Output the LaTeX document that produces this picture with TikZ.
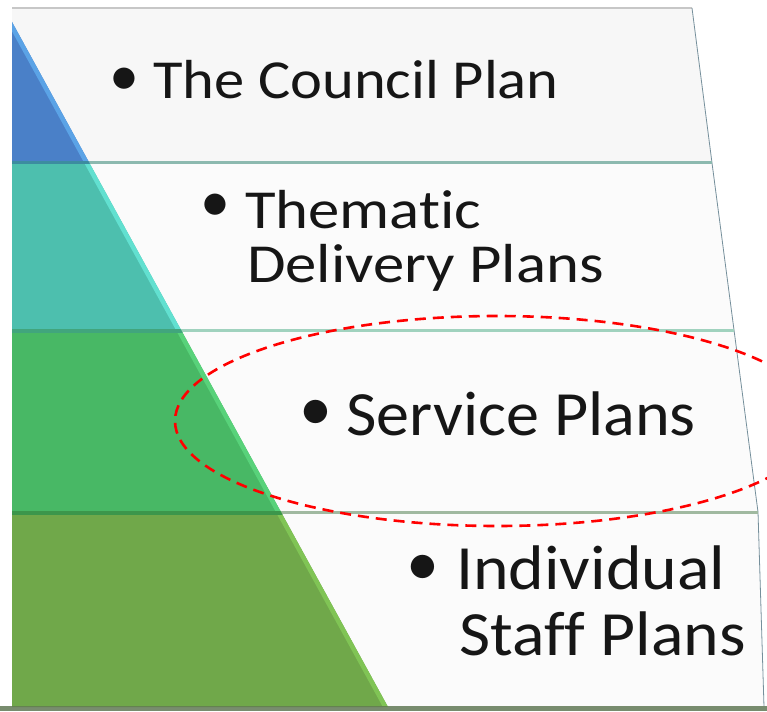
\documentclass[tikz,border=0pt]{standalone}
\usepackage{fontspec}
\setmainfont{Carlito}
\newfontfamily\upperfont[FakeStretch=1.1, Ligatures=NoCommon]{Carlito}
\newfontfamily\middlefont[FakeStretch=1.14, Ligatures=NoCommon]{Carlito}
\newfontfamily\lowerfont[FakeStretch=1.05, Ligatures=NoCommon]{Carlito}
\newfontfamily\basefont[FakeStretch=1.075, Ligatures=NoCommon]{Carlito}
\definecolor{tierA}{HTML}{4A80C8}
\definecolor{tierAhi}{HTML}{5BA3E6}
\definecolor{tierB}{HTML}{4DBFAE}
\definecolor{tierBhi}{HTML}{62E0D0}
\definecolor{tierC}{HTML}{48B865}
\definecolor{tierChi}{HTML}{58D27A}
\definecolor{tierD}{HTML}{70A84A}
\definecolor{tierDhi}{HTML}{80C455}
\definecolor{inkcol}{HTML}{161616}
\begin{document}
\begin{tikzpicture}[x=1pt,y=-1pt,
  item/.style={anchor=base west, inner sep=0pt, text=inkcol},
  upper/.style={item, font=\upperfont\fontsize{55}{60}\selectfont},
  middle/.style={item, font=\middlefont\fontsize{55}{60}\selectfont},
  lower/.style={item, font=\lowerfont\fontsize{63}{68}\selectfont},
  bottom/.style={item, font=\basefont\fontsize{63}{68}\selectfont},
  dot/.style={inner sep=0pt, anchor=center, text=inkcol},
  sepline/.style={line width=3pt},
]
\useasboundingbox (0,0) rectangle (767,711);
\fill[white] (0,0) rectangle (767,711);
\clip (0,0) rectangle (767,711);

% text panels
\fill[white!97!black] (12,8) -- (692,8) -- (712,163) -- (12,163) -- cycle;
\fill[white!98.5!black] (12,163) -- (712,163) -- (734,330) -- (758,512) -- (764,707) -- (12,707) -- cycle;
\draw[line width=1.2pt, black!22] (12,8) -- (692,8);
\draw[line width=0.8pt, black!35!cyan!40!gray] (692,8) -- (712,163) -- (734,330) -- (758,512) -- (764,707);
\draw[sepline, color={rgb,255:red,140;green,185;blue,175}] (80,163) -- (712,163);
\draw[sepline, color={rgb,255:red,160;green,210;blue,190}] (170,330) -- (734,330);
\draw[sepline, color={rgb,255:red,160;green,185;blue,160}] (270,512) -- (758,512);
\fill[color={rgb,255:red,120;green,140;blue,110}] (0,706) rectangle (767,711);

% stepped pyramid, left half
\begin{scope}
  \clip (12,22) -- (388,707) -- (12,707) -- cycle;
  \fill[tierA] (12,0) rectangle (400,163);
  \fill[tierB] (12,163) rectangle (400,330);
  \fill[tierC] (12,330) rectangle (400,512);
  \fill[tierD] (12,512) rectangle (400,707);
  \begin{scope}
    \clip (0,0) rectangle (400,163);
    \draw[line width=9pt, tierAhi] (12,22) -- (388,707);
  \end{scope}
  \begin{scope}
    \clip (0,163) rectangle (400,330);
    \draw[line width=9pt, tierBhi] (12,22) -- (388,707);
  \end{scope}
  \begin{scope}
    \clip (0,330) rectangle (400,512);
    \draw[line width=9pt, tierChi] (12,22) -- (388,707);
  \end{scope}
  \begin{scope}
    \clip (0,512) rectangle (400,707);
    \draw[line width=9pt, tierDhi] (12,22) -- (388,707);
  \end{scope}
  \draw[line width=3pt, color={rgb,255:red,60;green,140;blue,160}] (12,163) -- (400,163);
  \draw[line width=4pt, color={rgb,255:red,65;green,165;blue,125}] (12,331) -- (400,331);
  \draw[line width=4pt, color={rgb,255:red,60;green,150;blue,75}] (12,513) -- (400,513);
  \fill[color={rgb,255:red,100;green,130;blue,80}] (0,706) rectangle (400,711);
\end{scope}

% labels
\node[dot, font=\fontsize{60}{60}\selectfont] (bulletA) at (124,82) {•};
\node[upper] (council) at (153,99) {The Council Plan};

\node[dot, font=\fontsize{60}{60}\selectfont] (bulletB) at (215,208) {•};
\node[middle] (thematic) at (245,228) {Thematic};
\node[middle] (delivery) at (247,282) {Delivery Plans};

\node[dot, font=\fontsize{66}{66}\selectfont] (bulletC) at (316,415) {•};
\node[lower] (service) at (346,435) {Service Plans};

\node[dot, font=\fontsize{66}{66}\selectfont] (bulletD) at (423,570) {•};
\node[bottom] (individual) at (456,589) {Individual};
\node[bottom] (staff) at (459,655) {Staf\kern0pt f Plans};

% highlight around the service tier
\draw[red, line width=2.6pt, dash pattern=on 11pt off 7pt] (497,421) ellipse [x radius=322, y radius=105];
\end{tikzpicture}
\end{document}
